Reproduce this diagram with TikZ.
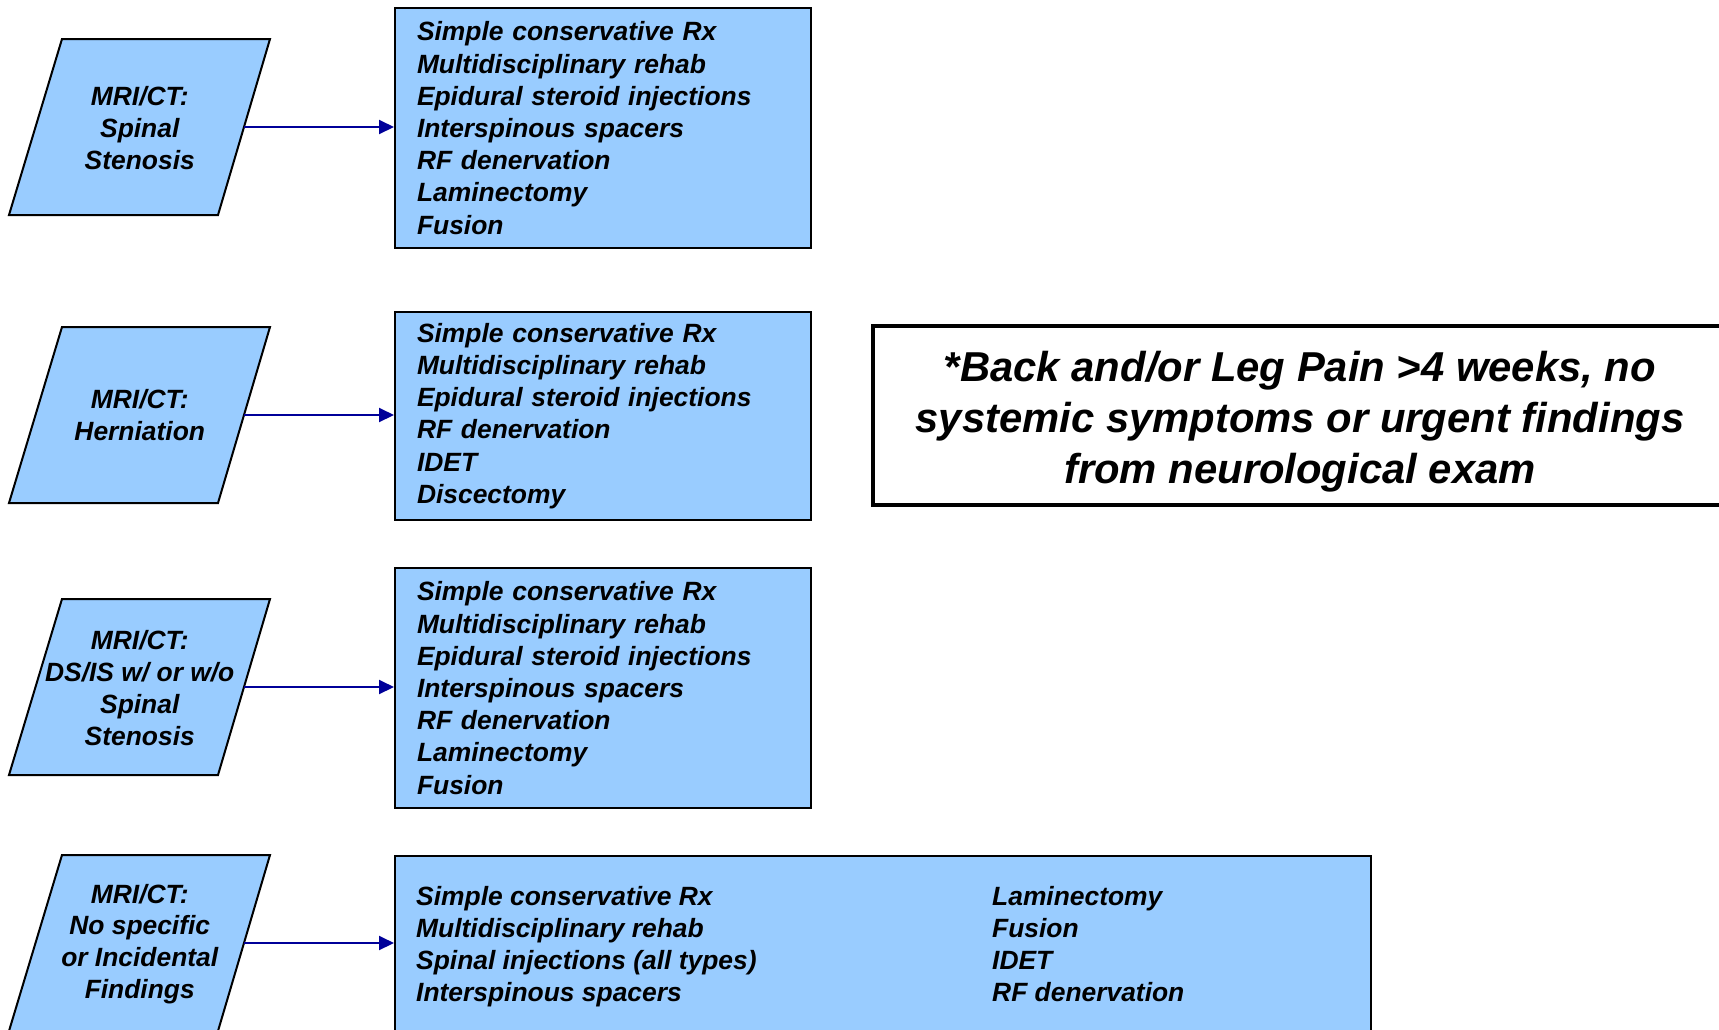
\documentclass[tikz,border=0pt]{standalone}
\usepackage{fontspec}
\setmainfont{Liberation Sans}
\usetikzlibrary{arrows.meta}
\definecolor{boxblue}{HTML}{99CCFF}
\definecolor{arrblue}{HTML}{000099}
\tikzset{
  txt/.style={font=\fontsize{26.4}{32.2}\selectfont\bfseries\itshape, inner sep=0pt},
  para/.style={draw=black, line width=2pt, fill=boxblue, line join=miter},
  paratext/.style={font=\fontsize{26.4}{31.8}\selectfont\bfseries\itshape, inner sep=0pt, align=center},
  listbox/.style={draw=black, line width=2pt, fill=boxblue, rectangle, anchor=north west,
    minimum width=416pt, inner xsep=22pt, inner ysep=0pt, text width=372pt, align=left,
    font=\fontsize{26.4}{32.2}\selectfont\bfseries\itshape},
  notebox/.style={draw=black, line width=4pt, fill=white, rectangle, minimum width=854pt,
    minimum height=179pt, inner sep=0pt},
  notetext/.style={align=center, inner sep=0pt,
    font=\fontsize{41.8}{51}\selectfont\bfseries\itshape},
  arr/.style={draw=arrblue, line width=2pt, -{Triangle[length=15pt,width=14pt]}}
}
\begin{document}
\begin{tikzpicture}[x=1pt,y=-1pt]
\clip (0,0) rectangle (1719,1029);
\fill[white] (0,0) rectangle (1719,1029);

% parallelograms
\draw[para] (62,39) -- (270,39) -- (218,215) -- (9,215) -- cycle;
\node[paratext] (p1) at (139.75,128) {MRI/CT:\\Spinal\\Stenosis};
\coordinate (p1r) at (244,127);

\draw[para] (62,327) -- (270,327) -- (218,503) -- (9,503) -- cycle;
\node[paratext] (p2) at (139.75,415) {MRI/CT:\\Herniation};
\coordinate (p2r) at (244,415);

\draw[para] (62,599) -- (270,599) -- (218,775) -- (9,775) -- cycle;
\node[paratext] (p3) at (139.75,688) {MRI/CT:\\DS/IS w/ or w/o\\Spinal\\Stenosis};
\coordinate (p3r) at (244,687);

\draw[para] (62,855) -- (270,855) -- (218,1031) -- (9,1031) -- cycle;
\node[paratext] (p4) at (139.75,944) {MRI/CT:\\No specific\\or Incidental\\Findings};
\coordinate (p4r) at (244,943);

% list boxes
\node[listbox, minimum height=240pt] (b1) at (394,7)
  {Simple conservative Rx\\Multidisciplinary rehab\\Epidural steroid injections\\Interspinous spacers\\RF denervation\\Laminectomy\\Fusion};
\node[listbox, minimum height=208pt] (b2) at (394,311)
  {Simple conservative Rx\\Multidisciplinary rehab\\Epidural steroid injections\\RF denervation\\IDET\\Discectomy};
\node[listbox, minimum height=240pt] (b3) at (394,567)
  {Simple conservative Rx\\Multidisciplinary rehab\\Epidural steroid injections\\Interspinous spacers\\RF denervation\\Laminectomy\\Fusion};
\node[listbox, minimum width=976pt, text width=932pt, minimum height=178pt] (b4) at (394,855) {};
\node[txt, anchor=west, align=left, text height=119pt, text depth=9.7pt] (b4l) at (416,947)
  {Simple conservative Rx\\Multidisciplinary rehab\\Spinal injections (all types)\\Interspinous spacers};
\node[txt, anchor=west, align=left, text height=119pt, text depth=9.7pt] (b4r) at (992,947)
  {Laminectomy\\Fusion\\IDET\\RF denervation};

% note
\node[notebox] (note) at (1300,415.5) {};
\node[notetext] (notet) at (1300,421.5)
  {*Back and/or Leg Pain >4 weeks, no\\systemic symptoms or urgent findings\\from neurological exam};

% arrows
\draw[arr] (p1r) -- (p1r -| b1.west);
\draw[arr] (p2r) -- (p2r -| b2.west);
\draw[arr] (p3r) -- (p3r -| b3.west);
\draw[arr] (p4r) -- (p4r -| b4.west);
\end{tikzpicture}
\end{document}
